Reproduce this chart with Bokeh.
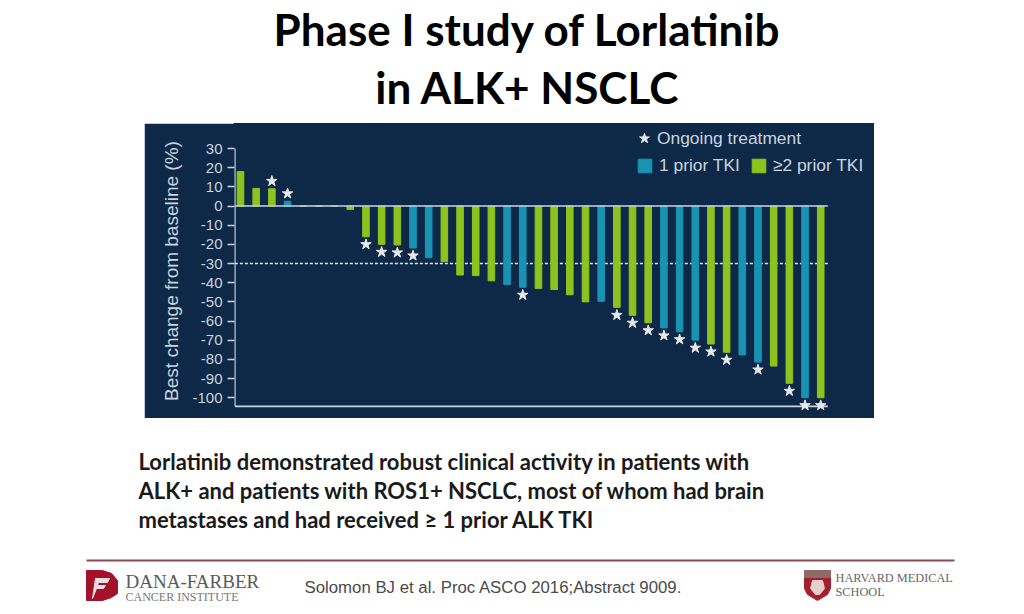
from bokeh.embed import file_html
from bokeh.resources import INLINE
from bokeh.plotting import figure
from bokeh.layouts import column
from bokeh.models import ColumnDataSource, FixedTicker, Legend, LegendItem, LinearAxis, Range1d
from bokeh.core.properties import value

# ---- data ----
change = [18, 9.2, 9, 2.5, 0, 0, 0, -1.8, -16, -20, -20.3, -21.9, -27, -29, -36, -36.3,
          -39, -41, -42.4, -43, -43.6, -46.3, -50, -49.7, -52.9, -57, -60.9, -63.6,
          -65.6, -70, -72, -76.3, -77.7, -81.4, -83.5, -92.5, -100, -100]
prior = ["2", "2", "2", "1", "2", "2", "2", "2", "2", "2", "2", "1", "1", "2", "2", "2",
         "2", "1", "1", "2", "2", "2", "2", "1", "2", "2", "2", "1",
         "1", "1", "2", "2", "1", "1", "2", "2", "1", "2"]
ongoing = [2, 3, 8, 9, 10, 11, 18, 24, 25, 26, 27, 28, 29, 30, 31, 33, 35, 36, 37]
y_ticks = [30, 20, 10, 0, -10, -20, -30, -40, -50, -60, -70, -80, -90, -100]
y_tick_labels = ["30", "20", "10", "0", "-10", "-20", "-30", "-40", "-50", "-60", "-70",
                 "-80", "-90", "-100"]
threshold = -30
y_title = "Best change from baseline (%)"
title_lines = ["Phase I study of Lorlatinib", "in ALK+ NSCLC"]
body_lines = ["Lorlatinib demonstrated robust clinical activity in patients with",
              "ALK+ and patients with ROS1+ NSCLC, most of whom had brain",
              "metastases and had received \u2265 1 prior ALK TKI"]
citation = "Solomon BJ et al. Proc ASCO 2016;Abstract 9009."

# ---- styles ----
NAVY = "#0e2848"
GREEN = "#8cc31e"
TEAL = "#1893b3"
LINE = "#c9d4df"
TEXT = "#c9d4df"
STAR = "#e8e8e8"
STAR_GAP = 4.0
AXIS_FLOOR = -104.5
W = 1008


def blank(height):
    f = figure(width=W, height=height, x_range=Range1d(0, W), y_range=Range1d(height, 0),
               output_backend="svg", toolbar_location=None, min_border=0,
               x_axis_type=None, y_axis_type=None, outline_line_color=None,
               background_fill_color="white", border_fill_color="white", frame_align=False)
    f.grid.visible = False
    return f


# ---- title ----
top = blank(123)
top.text(x=[527, 527], y=[28, 86], text=title_lines, text_font=value("Lato"),
         text_font_style="bold", text_font_size="44px", text_color="#000000",
         text_align="center", text_baseline="middle")

# ---- chart ----
ids = list(range(len(change)))
def part(code):
    keep = [i for i in ids if prior[i] == code]
    return ColumnDataSource(dict(x=keep, top=[change[i] for i in keep]))

p = figure(width=730, height=295, x_range=Range1d(-0.383, 40.43), y_range=Range1d(-110.85, 43.05),
           output_backend="svg", toolbar_location=None, min_border_left=90, min_border_right=0,
           min_border_top=0, min_border_bottom=0, background_fill_color=NAVY,
           border_fill_color=NAVY, outline_line_color=NAVY, outline_line_width=2,
           x_axis_type=None, y_axis_type=None, frame_align=False)
p.margin = (0, 0, 0, 144)
p.grid.visible = False

end = 37.45
start = -0.36
p.segment(x0=[start], x1=[end], y0=[threshold], y1=[threshold], line_color="#dfe6ec",
          line_width=1.5, line_dash="3 2")
teal = p.vbar(x="x", top="top", bottom=0, width=0.42, color=TEAL, source=part("1"))
green = p.vbar(x="x", top="top", bottom=0, width=0.42, color=GREEN, source=part("2"))
p.segment(x0=[start, start, start], x1=[end, end, start], y0=[0, AXIS_FLOOR, AXIS_FLOOR],
          y1=[0, AXIS_FLOOR, y_ticks[0]], line_color=LINE, line_width=1.6)
stars = p.scatter(x=ongoing,
                  y=[change[i] + (STAR_GAP if change[i] > 0 else -STAR_GAP) for i in ongoing],
                  marker="star", size=11, fill_color=STAR, line_color=STAR)

yax = LinearAxis(ticker=FixedTicker(ticks=y_ticks), axis_label=y_title,
                 major_label_overrides=dict(zip(y_ticks, y_tick_labels)),
                 axis_line_color=None, major_tick_line_color=LINE,
                 major_tick_line_width=1.3, minor_tick_line_color=None, major_tick_in=0,
                 major_tick_out=7, major_label_text_color=TEXT,
                 major_label_text_font="Liberation Sans", major_label_text_font_size="15px",
                 major_label_standoff=5, axis_label_text_color=TEXT,
                 axis_label_text_font="Liberation Sans", axis_label_text_font_size="19px",
                 axis_label_text_font_style="normal", axis_label_standoff=7)
p.add_layout(yax, "left")

def legend(items, loc, gw, gh, standoff, **kw):
    lg = Legend(items=items, location=loc, background_fill_alpha=0, border_line_color=None,
                label_text_color=TEXT, label_text_font="Liberation Sans",
                label_text_font_size="17.4px", margin=0, padding=0, spacing=10,
                glyph_width=gw, glyph_height=gh, label_standoff=standoff, **kw)
    p.add_layout(lg)

legend([LegendItem(label="Ongoing treatment", renderers=[stars])], (397, 267), 26, 26, 0)
legend([LegendItem(label="1 prior TKI", renderers=[teal]),
        LegendItem(label="\u22652 prior TKI", renderers=[green])], (402, 242), 17, 17, 6,
       orientation="horizontal")

# ---- lower slide ----
bot = blank(187)
bot.text(x=[138] * 3, y=[43, 72, 101], text=body_lines, text_font=value("Lato"),
         text_font_style="bold", text_font_size="22px", text_color="#1a1a1a",
         text_align="left", text_baseline="middle")
bot.segment(x0=[86], x1=[954], y0=[142], y1=[142], line_color="#8a4a52", line_width=2)
bot.text(x=[304], y=[169], text=[citation], text_font=value("Liberation Sans"),
         text_font_size="16.8px", text_color="#4a4a4a", text_baseline="middle")
# Dana-Farber logo
bot.patch(x=[86, 102, 111, 117, 117, 111, 102, 86], y=[152, 152, 155, 162, 175, 179, 182, 182],
          color="#a3122a")
bot.patch(x=[95, 109, 107, 98, 97, 105, 103, 96, 92], y=[160, 160, 164, 164, 167, 167, 170, 170, 180],
          color="#e9dfe0")
bot.text(x=[125], y=[163], text=["DANA-FARBER"], text_font=value("Liberation Serif"),
         text_font_size="19px", text_color="#5a5a5a", text_baseline="middle")
bot.text(x=[125], y=[178], text=["CANCER INSTITUTE"], text_font=value("Liberation Serif"),
         text_font_size="12px", text_color="#777777", text_baseline="middle")
# Harvard shield
bot.patch(x=[804, 830, 830, 827, 817, 807, 804], y=[152, 152, 170, 176, 182, 176, 170],
          color="#a4202f")
bot.quad(left=[804], right=[830], top=[152], bottom=[159], color="#8c6a6a")
bot.patch(x=[812, 822, 824, 819, 815, 810], y=[162, 162, 170, 176, 176, 170], color="#e6cfcf")
bot.text(x=[835, 835], y=[159, 173], text=["HARVARD MEDICAL", "SCHOOL"],
         text_font=value("Liberation Serif"), text_font_size="12.3px", text_color="#666666",
         text_baseline="middle")

page = column(top, p, bot, spacing=0)
open("out.html", "w").write(file_html(page, INLINE))
